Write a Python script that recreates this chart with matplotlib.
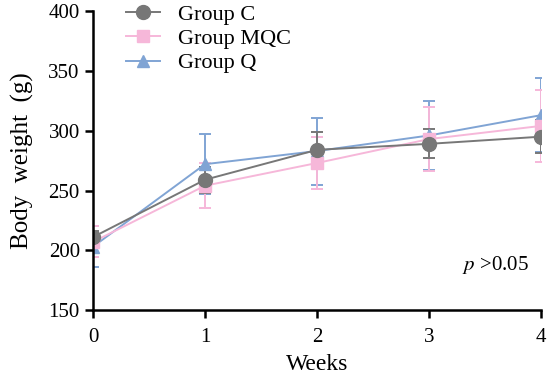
import matplotlib.pyplot as plt
from matplotlib.lines import Line2D
import numpy as np

plt.rc("font", size=14, family="serif", serif=["Liberation Serif", "DejaVu Serif"])
plt.rc("mathtext", fontset="stix")

weeks = [0, 1, 2, 3, 4]
group_c = [211, 259, 284, 289, 295]
group_c_err = [5, 11, 15, 12, 14]
group_mqc = [207, 254, 273, 293, 304]
group_mqc_err = [13, 19, 22, 27, 30]
group_q = [203, 272, 283, 296, 313]
group_q_err = [17, 25, 28, 29, 31]

fig = plt.figure(figsize=(5.5, 3.81), dpi=100)
ax = fig.add_axes([0.169, 0.186, 0.815, 0.785])

series = [
    ("Group Q", group_q, group_q_err, "#80a4d4", "^", 9),
    ("Group MQC", group_mqc, group_mqc_err, "#f6b7d9", "s", 8.5),
    ("Group C", group_c, group_c_err, "#777777", "o", 10),
]
handles = {}
for name, vals, err, col, mk, ms in series:
    ax.errorbar(weeks, vals, yerr=err, color=col, marker=mk, markersize=ms,
                linewidth=1.4, elinewidth=1.4, capsize=4.5, capthick=1.4)
    handles[name] = Line2D([], [], color=col, marker=mk, markersize=ms, linewidth=1.4)

order = ["Group C", "Group MQC", "Group Q"]
ax.legend([handles[n] for n in order], order, loc="upper left",
          bbox_to_anchor=(0.03, 1.09), frameon=False, fontsize=16,
          handlelength=1.5, labelspacing=0.17, handletextpad=0.8)

ax.set_xlim(0, 4)
ax.set_ylim(150, 400)
ax.set_xticks(weeks)
ax.set_yticks(np.arange(150, 401, 50))
for s in ["top", "right"]:
    ax.spines[s].set_visible(False)
for s in ["left", "bottom"]:
    ax.spines[s].set_linewidth(1.8)
ax.tick_params(width=1.8, length=6, labelsize=15)
ax.tick_params(axis="x", pad=7)

ax.set_xlabel("Weeks", fontsize=17, labelpad=5)
ax.set_ylabel("Body  weight  (g)", fontsize=18, labelpad=10)
ax.text(0.973, 0.135, r"$p$ >0.05", transform=ax.transAxes, ha="right",
        fontsize=15)

fig.savefig("out.png", dpi=100)
